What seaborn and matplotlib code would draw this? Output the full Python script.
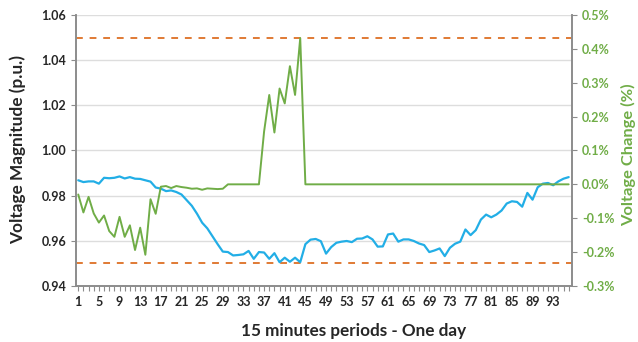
import numpy as np
import pandas as pd
import seaborn as sns
import matplotlib.pyplot as plt
from matplotlib.ticker import FuncFormatter, MultipleLocator

# voltage magnitude (p.u.) for the 96 quarter-hour periods
voltage = [
    0.9868, 0.9860, 0.9863, 0.9863, 0.9853, 0.9879, 0.9877, 0.9879, 0.9885, 0.9876,
    0.9882, 0.9875, 0.9874, 0.9868, 0.9862, 0.9836, 0.9831, 0.9820, 0.9823, 0.9816,
    0.9805, 0.9780, 0.9755, 0.9720, 0.9680, 0.9655, 0.9620, 0.9585, 0.9552, 0.9550,
    0.9535, 0.9537, 0.9540, 0.9555, 0.9520, 0.9550, 0.9548, 0.9520, 0.9545, 0.9505,
    0.9525, 0.9507, 0.9525, 0.9505, 0.9585, 0.9605, 0.9608, 0.9598, 0.9543, 0.9572,
    0.9591, 0.9596, 0.9599, 0.9594, 0.9609, 0.9610, 0.9620, 0.9606, 0.9574, 0.9575,
    0.9628, 0.9632, 0.9596, 0.9606, 0.9606, 0.9599, 0.9588, 0.9581, 0.9550, 0.9557,
    0.9566, 0.9532, 0.9569, 0.9587, 0.9596, 0.9650, 0.9625, 0.9647, 0.9694, 0.9716,
    0.9704, 0.9716, 0.9734, 0.9765, 0.9775, 0.9772, 0.9751, 0.9812, 0.9782, 0.9837,
    0.9853, 0.9856, 0.9846, 0.9863, 0.9875, 0.9882,
]

# voltage change (%)
change = [
    -0.030, -0.083, -0.037, -0.086, -0.113, -0.092, -0.138, -0.155, -0.096, -0.155,
    -0.121, -0.194, -0.128, -0.208, -0.044, -0.087, -0.007, -0.005, -0.011, -0.005,
    -0.008, -0.010, -0.013, -0.012, -0.016, -0.012, -0.013, -0.014, -0.013, 0.0,
    0.0, 0.0, 0.0, 0.0, 0.0, 0.0, 0.156, 0.264, 0.153, 0.283,
    0.239, 0.349, 0.264, 0.432, 0.0, 0.0, 0.0, 0.0, 0.0, 0.0,
    0.0, 0.0, 0.0, 0.0, 0.0, 0.0, 0.0, 0.0, 0.0, 0.0,
    0.0, 0.0, 0.0, 0.0, 0.0, 0.0, 0.0, 0.0, 0.0, 0.0,
    0.0, 0.0, 0.0, 0.0, 0.0, 0.0, 0.0, 0.0, 0.0, 0.0,
    0.0, 0.0, 0.0, 0.0, 0.0, 0.0, 0.0, 0.0, 0.0, 0.0,
    0.0, 0.0, 0.0, 0.0, 0.0, 0.0,
]

periods = list(range(1, 97))
v_upper = 1.05
v_lower = 0.95

BLUE = "#22AEE6"
GREEN = "#70AD47"
ORANGE = "#E07A34"
GRAY = "#8C8C8C"

df = pd.DataFrame({"period": periods, "voltage": voltage, "change": change})

sns.set_style("white")
plt.rcParams["font.family"] = ["Lato", "DejaVu Sans"]
plt.rcParams["font.weight"] = "bold"

fig = plt.figure(figsize=(6.38, 3.42), dpi=100)
ax = fig.add_axes([0.119, 0.164, 0.778, 0.792])
ax2 = ax.twinx()

ax.set_axisbelow(True)
ax.yaxis.grid(True, color="#DDDDDD", lw=1)

sns.lineplot(data=df, x="period", y="voltage", ax=ax, color=BLUE, lw=1.6)
sns.lineplot(data=df, x="period", y="change", ax=ax2, color=GREEN, lw=1.4)

for lvl in (v_upper, v_lower):
    ax.axhline(lvl, color=ORANGE, lw=1.4, ls=(0, (3.5, 3.5)), zorder=1)

ax.set_xlim(0.55, 96.7)
ax.set_ylim(0.94, 1.06)
ax2.set_ylim(-0.3, 0.5)

ax.set_xticks(periods[::4])
ax.xaxis.set_minor_locator(MultipleLocator(1))
ax.yaxis.set_major_locator(MultipleLocator(0.02))
ax.yaxis.set_major_formatter(FuncFormatter(lambda v, p: f"{v:.2f}"))
ax2.yaxis.set_major_locator(MultipleLocator(0.1))
ax2.yaxis.set_major_formatter(FuncFormatter(lambda v, p: f"{abs(v) if abs(v) < 1e-9 else v:.1f}%"))

ax.tick_params(axis="x", which="both", direction="out", length=3.5, width=0.8,
               color=GRAY, bottom=True, labelsize=9, pad=4)
ax.tick_params(axis="y", direction="out", length=3.5, width=0.8, color=GRAY,
               left=True, labelsize=9)
ax2.tick_params(axis="y", direction="out", length=3.5, width=0.8, color=GRAY,
                right=True, labelsize=9, labelcolor=GREEN)

for t in ax.get_xticklabels() + ax.get_yticklabels() + ax2.get_yticklabels():
    t.set_fontweight("bold")

ax.set_xlabel("15 minutes periods - One day", fontsize=12, fontweight="bold")
ax.set_ylabel("Voltage Magnitude (p.u.)", fontsize=12, fontweight="bold")
ax2.set_ylabel("Voltage Change (%)", fontsize=12, fontweight="bold", color=GREEN)

# label positions, in axes fractions
ax.xaxis.set_label_coords(0.56, -0.166)
ax.yaxis.set_label_coords(-0.117, 0.505)
ax2.yaxis.set_label_coords(1.113, 0.485)
for lab in (ax.xaxis.label, ax.yaxis.label, ax2.yaxis.label):
    lab.set_verticalalignment("center")

# scale the axis titles to the lengths they have in the original (px)
renderer = fig.canvas.get_renderer()
for lab, target in ((ax.xaxis.label, 224), (ax.yaxis.label, 188), (ax2.yaxis.label, 142)):
    bb = lab.get_window_extent(renderer)
    lab.set_fontsize(lab.get_fontsize() * target / max(bb.width, bb.height))

for a in (ax, ax2):
    a.spines["top"].set_visible(False)
    for s in ("left", "right", "bottom"):
        a.spines[s].set_color(GRAY)
        a.spines[s].set_linewidth(1.2)

fig.savefig("out.png", dpi=100, facecolor="white")
